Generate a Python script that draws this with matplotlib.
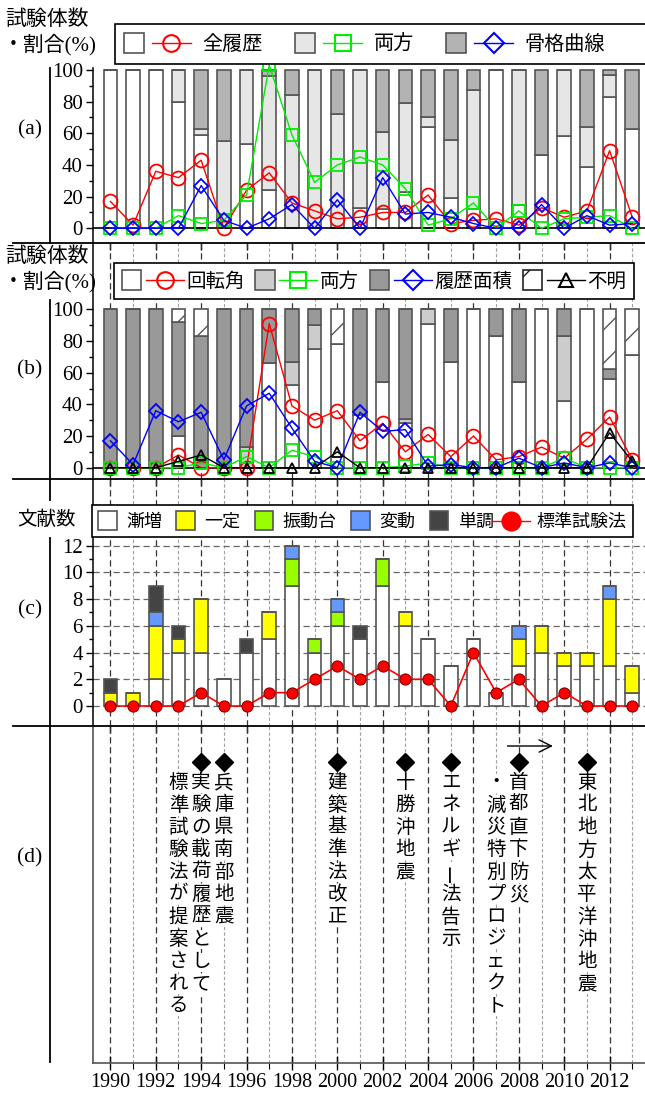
import numpy as np
import matplotlib.pyplot as plt
from matplotlib.patches import Patch, Rectangle
from matplotlib.lines import Line2D
from matplotlib.legend_handler import HandlerBase

plt.rcParams['font.family'] = ['Liberation Serif', 'Noto Sans CJK JP']
plt.rcParams['hatch.linewidth'] = 1.0

years = np.arange(1990, 2014)

# (a) 載荷履歴の内訳 (%)
a_white = [100, 100, 100, 80, 59, 0, 53, 24, 0, 0, 0, 13, 12, 23, 64, 19, 12, 100, 15, 46, 58, 39, 83, 63]
a_light = [0, 0, 0, 20, 4, 55, 47, 72, 84, 100, 72, 87, 49, 56, 6, 37, 75, 0, 85, 0, 42, 25, 14, 0]
a_dark = [0, 0, 0, 0, 37, 45, 0, 4, 16, 0, 28, 0, 39, 21, 30, 44, 13, 0, 0, 54, 0, 36, 3, 37]
a_all = [17, 2, 36, 32, 43, 0, 24, 35, 16, 11, 6, 7, 10, 10, 21, 3, 5, 6, 2, 13, 7, 11, 49, 7]
a_both = [0, 0, 0, 8, 3, 5, 21, 103, 59, 29, 40, 45, 40, 25, 2, 6, 16, 0, 11, 0, 6, 7, 8, 0]
a_skel = [0, 0, 0, 0, 27, 5, 0, 6, 15, 0, 18, 0, 32, 9, 10, 7, 3, 0, 0, 15, 0, 8, 2, 3]

# (b) 評価指標の内訳 (%)
b_white = [0, 0, 0, 20, 0, 0, 0, 66, 52, 75, 78, 33, 54, 28, 91, 67, 100, 83, 54, 100, 42, 100, 56, 71]
b_light = [0, 0, 0, 0, 0, 0, 13, 0, 15, 15, 0, 0, 0, 3, 9, 0, 0, 0, 0, 0, 41, 0, 0, 0]
b_dark = [100, 100, 100, 72, 83, 100, 87, 34, 33, 10, 0, 67, 46, 69, 0, 33, 0, 17, 46, 0, 17, 0, 6, 0]
b_hatch = [0, 0, 0, 8, 17, 0, 0, 0, 0, 0, 22, 0, 0, 0, 0, 0, 0, 0, 0, 0, 0, 0, 38, 29]
b_rot = [0, 0, 0, 8, 0, 0, 0, 91, 39, 30, 36, 17, 28, 10, 21, 7, 20, 5, 7, 13, 6, 18, 32, 5]
b_both = [0, 0, 0, 0, 3, 0, 7, 0, 11, 7, 0, 0, 0, 1, 3, 0, 0, 0, 0, 0, 6, 0, 0, 0]
b_area = [17, 2, 36, 29, 35, 5, 39, 47, 25, 4, 0, 35, 23, 24, 1, 2, 0, 0, 6, 0, 3, 0, 3, 0]
b_unk = [0, 0, 0, 4, 8, 0, 0, 0, 0, 0, 10, 0, 0, 0, 0, 0, 0, 0, 0, 0, 0, 0, 22, 4]

# (c) 文献数
c_inc = [0, 0, 2, 4, 4, 2, 4, 5, 9, 4, 6, 5, 9, 6, 5, 3, 5, 1, 3, 4, 3, 3, 3, 1]
c_const = [1, 1, 4, 1, 4, 0, 0, 2, 0, 0, 0, 0, 0, 1, 0, 0, 0, 0, 2, 2, 1, 1, 5, 2]
c_table = [0, 0, 0, 0, 0, 0, 0, 0, 2, 1, 1, 0, 2, 0, 0, 0, 0, 0, 0, 0, 0, 0, 0, 0]
c_var = [0, 0, 1, 0, 0, 0, 0, 0, 1, 0, 1, 0, 0, 0, 0, 0, 0, 0, 1, 0, 0, 0, 1, 0]
c_mono = [1, 0, 2, 1, 0, 0, 1, 0, 0, 0, 0, 1, 0, 0, 0, 0, 0, 0, 0, 0, 0, 0, 0, 0]
c_std = [0, 0, 0, 0, 1, 0, 0, 1, 1, 2, 3, 2, 3, 2, 2, 0, 4, 1, 2, 0, 1, 0, 0, 0]

# (d) 出来事
events = [(1993, '標準試験法が提案される'), (1994, '実験の載荷履歴として'),
          (1995, '兵庫県南部地震'), (2000, '建築基準法改正'), (2003, '十勝沖地震'),
          (2005, 'エネルギー法告示'), (2007, '・減災特別プロジェクト'),
          (2008, '首都直下防災'), (2011, '東北地方太平洋沖地震')]
mark_years = [1994, 1995, 2000, 2003, 2005, 2008, 2011]

W, H = 645, 1095
X0 = 92.7
XL = (1989.22, 2013.56)
BAR_W = 0.6
EDGE = '#555555'
TICK_FS = 15

fig = plt.figure(figsize=(W / 100, H / 100), dpi=100)


def panel(top, bottom, zero_px, ppu):
    ax = fig.add_axes([X0 / W, 1 - bottom / H, 1 - X0 / W, (bottom - top) / H])
    ax.set_xlim(*XL)
    ax.set_ylim(-(bottom - zero_px) / ppu, (zero_px - top) / ppu)
    ax.set_facecolor('none')
    for s in ('top', 'right', 'bottom'):
        ax.spines[s].set_visible(False)
    ax.spines['left'].set_linewidth(1.1)
    ax.set_xticks(years[::2])
    ax.tick_params(axis='x', direction='out', length=5, width=1, labelbottom=False)
    ax.tick_params(axis='y', which='major', direction='out', length=5, width=1,
                   labelsize=TICK_FS, pad=2)
    ax.tick_params(axis='y', which='minor', direction='out', length=3, width=1)
    return ax


def stack(ax, parts, colors, hatches=None):
    base = np.zeros(len(years))
    for i, (vals, c) in enumerate(zip(parts, colors)):
        ax.bar(years, vals, BAR_W, bottom=base, color=c, edgecolor=EDGE, linewidth=1.2,
               hatch=hatches[i] if hatches else None, zorder=2)
        base = base + np.asarray(vals)


def series(ax, vals, color, marker, ms, z=4):
    ax.plot(years, vals, color=color, lw=1.0, marker=marker, ms=ms, mfc='none', mec=color,
            mew=1.3, zorder=z, clip_on=False)


def year_lines(ax):
    for y in years:
        if y % 2 == 0:
            ax.axvline(y, color='#333333', lw=0.9, ls=(0, (5, 3)), zorder=0)
        else:
            ax.axvline(y, color='#a0a0a0', lw=0.8, ls=(0, (3, 2)), zorder=0)


class Swatch(HandlerBase):
    """Square colour chip and/or a short marker line, drawn side by side."""

    def __init__(self, gap=0.4, lead=0.0):
        super().__init__()
        self.gap, self.lead = gap, lead

    def create_artists(self, legend, orig, xd, yd, width, height, fontsize, trans):
        items = orig if isinstance(orig, tuple) else (orig,)
        x, x1, yc = -xd, -xd + width, -yd + height / 2
        out = []
        for h in items:
            if isinstance(h, Patch):
                out.append(Rectangle((x, -yd), height, height, facecolor=h.get_facecolor(),
                                     edgecolor=h.get_edgecolor(), hatch=h.get_hatch(),
                                     linewidth=h.get_linewidth(), transform=trans))
                x += height + self.gap * fontsize
            else:
                xs = x - self.lead * fontsize
                out.append(Line2D([xs, x1], [yc, yc], color=h.get_color(),
                                  lw=h.get_linewidth(), transform=trans))
                out.append(Line2D([(xs + x1) / 2], [yc], ls='none', marker=h.get_marker(),
                                  ms=h.get_markersize(), mfc=h.get_markerfacecolor(),
                                  mec=h.get_markeredgecolor(), mew=h.get_markeredgewidth(),
                                  transform=trans))
        return out


def chip(fc, hatch=None, ec=EDGE):
    return Patch(facecolor=fc, edgecolor=ec, linewidth=1.2, hatch=hatch)


def mline(color, marker, ms=12, fill='none'):
    return Line2D([], [], color=color, lw=1.0, marker=marker, ms=ms, mfc=fill, mec=color, mew=1.5)


# ---------------- (a)
ax_a = panel(68, 242.7, 228.3, 1.584)
stack(ax_a, [a_white, a_light, a_dark], ['white', '#e6e6e6', '#b3b3b3'])
ax_a.axhline(0, color='k', lw=1.2, zorder=3)
series(ax_a, a_all, 'red', 'o', 10)
series(ax_a, a_both, '#00ee00', 's', 8)
series(ax_a, a_skel, 'blue', 'D', 7.5)
ax_a.set_yticks(np.arange(0, 101, 20))
ax_a.set_yticks(np.arange(0, 101, 10), minor=True)

# ---------------- (b)
ax_b = panel(242.7, 479.3, 467.7, 1.584)
year_lines(ax_b)
stack(ax_b, [b_white, b_light, b_dark, b_hatch], ['white', '#cccccc', '#999999', 'white'],
      hatches=[None, None, None, '/'])
ax_b.axhline(0, color='k', lw=1.2, zorder=3)
series(ax_b, b_rot, 'red', 'o', 10)
series(ax_b, b_both, '#00ee00', 's', 8)
series(ax_b, b_area, 'blue', 'D', 7.5)
series(ax_b, b_unk, 'black', '^', 7.5)
ax_b.set_yticks(np.arange(0, 101, 20))
ax_b.set_yticks(np.arange(0, 101, 10), minor=True)

# ---------------- (c)
ax_c = panel(479.3, 726, 706, 13.36)
year_lines(ax_c)
ax_c.set_yticks(np.arange(0, 13, 2))
ax_c.set_yticks(np.arange(0, 13, 1), minor=True)
ax_c.yaxis.grid(True, which='major', color='#666666', lw=0.9, ls=(0, (5, 3)))
ax_c.set_axisbelow(True)
stack(ax_c, [c_inc, c_const, c_table, c_var, c_mono],
      ['white', '#ffff00', '#99ff00', '#6699ff', '#444444'])
ax_c.plot(years, c_std, color='red', lw=1.2, marker='o', ms=8, mfc='red', mec='#880000',
          mew=0.8, zorder=4, clip_on=False)

# ---------------- (d)
ax_d = fig.add_axes([X0 / W, 1 - 1063 / H, 1 - X0 / W, (1063 - 726) / H])
ax_d.set_xlim(*XL)
ax_d.set_ylim(337, 0)
ax_d.set_facecolor('none')
for s in ('top', 'right'):
    ax_d.spines[s].set_visible(False)
for s in ('left', 'bottom'):
    ax_d.spines[s].set_color('#555555')
    ax_d.spines[s].set_linewidth(1.2)
year_lines(ax_d)
ax_d.set_yticks([])
ax_d.set_xticks(years[::2])
ax_d.set_xticks(years[1::2], minor=True)
ax_d.tick_params(axis='x', which='major', direction='inout', length=10, width=1,
                 labelsize=14.5, pad=2)
ax_d.tick_params(axis='x', which='minor', direction='out', length=4, width=0.8)
ax_d.plot(mark_years, [36] * len(mark_years), ls='none', marker='D', ms=9, color='k', zorder=3)
for yr, label in events:
    for i, ch in enumerate(label):
        ax_d.text(yr, 57 + i * 22.4, ch, ha='center', va='center', fontsize=14,
                  rotation=90 if ch == 'ー' else 0, zorder=3,
                  bbox=dict(boxstyle='square,pad=0.05', fc='white', ec='none'))
ax_d.annotate('', xy=(2009.5, 20), xytext=(2007.5, 20),
              arrowprops=dict(arrowstyle='->', lw=1.0, color='k', mutation_scale=22,
                              shrinkA=0, shrinkB=0))


# ---------------- frame lines and labels
def hline(y, x0=13, x1=W):
    fig.add_artist(Line2D([x0 / W, x1 / W], [1 - y / H] * 2, color='k', lw=1.3))


def vline(x, y0, y1):
    fig.add_artist(Line2D([x / W] * 2, [1 - y0 / H, 1 - y1 / H], color='k', lw=1.3))


for y in (242.7, 479.3, 726):
    hline(y)
vline(50, 68, 242.7)
vline(50, 300, 500)
vline(50, 538, 1062)

for lab, y in (('(a)', 130), ('(b)', 370), ('(c)', 610), ('(d)', 858)):
    fig.text(30 / W, 1 - y / H, lab, ha='center', va='center', fontsize=15.5)

for y0 in (20, 257):
    fig.text(47 / W, 1 - y0 / H, '試験体数', ha='center', va='center', fontsize=15)
    fig.text(50 / W, 1 - (y0 + 25) / H, '・割合(%)', ha='center', va='center', fontsize=15)
fig.text(46 / W, 1 - 520 / H, '文献数', ha='center', va='center', fontsize=14)

frame = dict(frameon=True, fancybox=False, framealpha=1, edgecolor='k', facecolor='white')

# the first legend box runs past the right edge; an empty slot keeps it open there
blank = Patch(facecolor='none', edgecolor='none')
leg_a = fig.legend([(chip('white'), mline('red', 'o')),
                    (chip('#e6e6e6'), mline('#00ee00', 's', 11)),
                    (chip('#b3b3b3'), mline('blue', 'D', 10)), blank],
                   ['全履歴', '両方', '骨格曲線', ''], ncol=4, loc='upper left',
                   bbox_to_anchor=(105 / W, 1 - 14 / H), fontsize=14.5,
                   handlelength=3.3, handleheight=1.15, handletextpad=0.6, columnspacing=1.6,
                   borderpad=0.45, handler_map={tuple: Swatch(gap=0.4), Patch: Swatch()}, **frame)
leg_a.get_frame().set_linewidth(1.2)

leg_b = fig.legend([(chip('white'), mline('red', 'o')),
                    (chip('#cccccc'), mline('#00ee00', 's', 11)),
                    (chip('#999999'), mline('blue', 'D', 10)),
                    (chip('white', '/', ec='#222222'), mline('black', '^', 10))],
                   ['回転角', '両方', '履歴面積', '不明'], ncol=4, loc='upper left',
                   bbox_to_anchor=(104 / W, 1 - 253 / H), fontsize=14,
                   handlelength=3.2, handleheight=1.15, handletextpad=0.12, columnspacing=0.55,
                   borderpad=0.4, handler_map={tuple: Swatch(gap=0.25)}, **frame)
leg_b.get_frame().set_linewidth(1.2)

leg_c = fig.legend([chip('white'), chip('#ffff00'), chip('#99ff00'), chip('#6699ff'),
                    chip('#444444'), mline('red', 'o', 13, fill='red')],
                   ['漸増', '一定', '振動台', '変動', '単調', '標準試験法'], ncol=6,
                   loc='upper left', bbox_to_anchor=(82.7 / W, 1 - 496 / H), fontsize=13,
                   handlelength=1.2, handleheight=1.2, handletextpad=0.35, columnspacing=0.8,
                   borderpad=0.35, handler_map={Patch: Swatch(), Line2D: Swatch(lead=0.9)},
                   **frame)
leg_c.get_frame().set_linewidth(1.2)

fig.savefig('out.png', dpi=100)
